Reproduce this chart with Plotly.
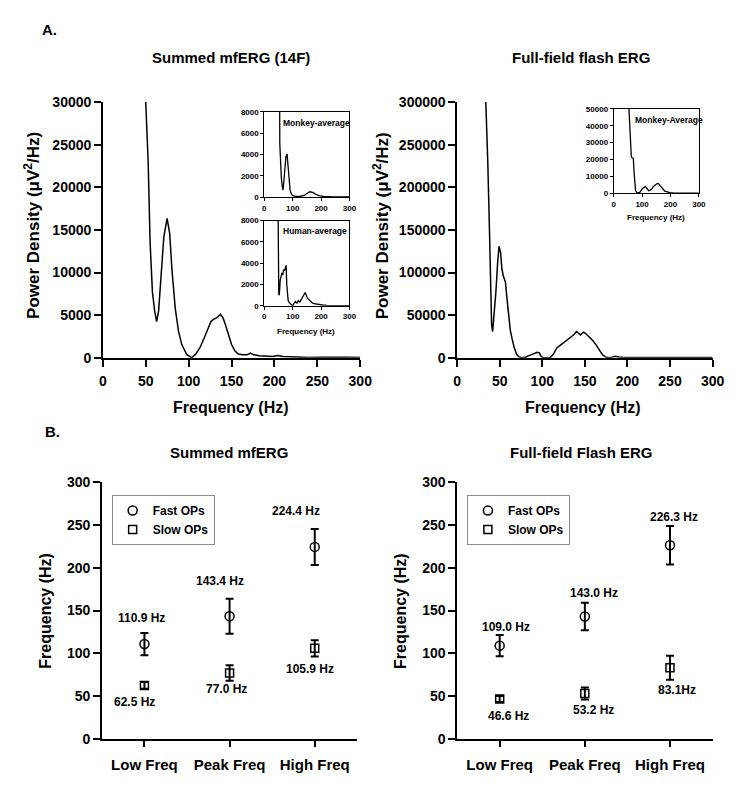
import plotly.graph_objects as go

W, H = 750, 792
FONT = "Liberation Sans, Arial, sans-serif"

# ---------------- data ----------------
# A. Summed mfERG (14F) power spectrum
freq_mf = [46, 50, 52.8, 55.1, 57.8, 60.5, 62.7, 65, 67.3, 71.1, 74.9, 77.9, 80.5, 84.4, 88.2, 92, 97.7,
           103.4, 108, 113, 118, 122, 126, 129.5, 133, 137, 140, 143, 147, 150, 154, 158, 163, 168, 172,
           176, 182, 190, 198, 204, 210, 218, 228, 240, 255, 270, 285, 300]
power_mf = [40000, 30000, 23000, 13500, 7700, 5400, 4230, 5500, 9200, 14200, 16350, 14600, 10400, 5800, 3100,
            1550, 400, 0, 400, 1150, 2300, 3300, 4250, 4550, 4700, 5080, 4700, 3850, 2600, 1550, 800, 450,
            350, 350, 550, 350, 250, 180, 150, 280, 150, 120, 60, 20, 50, 90, 60, 30]

# inset: Monkey-average (mfERG)
freq_mk = [45, 54, 54.5, 57, 60, 63, 65.5, 68, 72, 76, 80, 83, 87, 91, 96, 102, 110, 125, 140, 150, 160,
           170, 180, 195, 210, 240, 270, 300]
power_mk = [20000, 9000, 5000, 3000, 1800, 1000, 650, 1200, 2800, 3800, 4050, 3200, 1600, 600, 250, 120, 80,
            60, 150, 350, 500, 450, 280, 120, 60, 30, 20, 10]

# inset: Human-average (mfERG)
freq_hu = [45, 49, 51, 53, 56, 58, 62, 65, 68, 71, 74, 77, 79, 81, 84, 88, 95, 100, 105, 110, 115, 120, 125,
           130, 135, 140, 144, 148, 152, 157, 162, 168, 175, 185, 195, 205, 220, 240, 270, 300]
power_hu = [20000, 8000, 1000, 1100, 2400, 2600, 3100, 2900, 3400, 3300, 3700, 3800, 2000, 1000, 500, 300,
            100, 0, 250, 400, 250, 500, 350, 600, 800, 1000, 1250, 1000, 700, 600, 450, 300, 200, 150, 100,
            80, 50, 30, 20, 10]

# A. Full-field flash ERG power spectrum
freq_ff = [32, 34, 36, 37.9, 39.5, 40.5, 41.7, 43.5, 45.5, 47.5, 49.2, 51.1, 52.5, 54.2, 56.8, 58.5, 60.6,
           62.5, 64.4, 67, 70, 73, 75.8, 80, 83, 87, 91, 94, 96.5, 98.5, 101, 104, 109, 113, 117, 121, 125,
           130, 134.5, 137.5, 140, 142.5, 144.7, 146.5, 148.5, 151, 155, 159, 163, 167, 170.5, 174, 178, 182,
           186, 190, 195, 205, 220, 240, 260, 280, 300]
power_ff = [350000, 300000, 230000, 153800, 80000, 38500, 30800, 50000, 76900, 110000, 130800, 123000,
            105000, 96150, 88460, 70000, 46150, 32000, 23000, 12000, 3850, 1000, 0, 500, 1900, 3500, 4500,
            6500, 5800, 1900, 0, 0, 0, 4000, 11500, 14500, 17300, 21000, 25000, 27500, 30800, 29000, 26900,
            28500, 30000, 28500, 25000, 20500, 15400, 9000, 3850, 1000, 0, 800, 1900, 1000, 300, 200, 500,
            200, 400, 200, 300]

# inset: Monkey-Average (full-field)
freq_ffm = [45, 54, 56, 58, 60, 62, 65, 69, 72, 77, 83, 92, 100, 106, 111, 117, 123, 128, 134, 140, 146,
            152, 157, 163, 169, 175, 180, 190, 198, 210, 220, 240, 270, 300]
power_ffm = [80000, 50000, 40000, 30000, 24000, 21700, 21000, 20800, 12000, 1500, 0, 500, 2500, 3500, 4000,
             2800, 1500, 1800, 2500, 4000, 5000, 5600, 5800, 4800, 3500, 2200, 1200, 600, 300, 150, 0, 50, 0, 0]

# B. OP frequencies (mean, error)
categories = ["Low Freq", "Peak Freq", "High Freq"]
cat_pos = [1, 3, 5]

fast_mf = [110.9, 143.4, 224.4]
fast_mf_err = [13, 20.5, 21]
slow_mf = [62.5, 77.0, 105.9]
slow_mf_err = [4, 9, 9.5]
fast_mf_text = ["110.9 Hz", "143.4 Hz", "224.4 Hz"]
slow_mf_text = ["62.5 Hz", "77.0 Hz", "105.9 Hz"]

fast_ff = [109.0, 143.0, 226.3]
fast_ff_err = [12.5, 16, 22.5]
slow_ff = [46.6, 53.2, 83.1]
slow_ff_err = [3.5, 7, 14]
fast_ff_text = ["109.0 Hz", "143.0 Hz", "226.3 Hz"]
slow_ff_text = ["46.6 Hz", "53.2 Hz", "83.1Hz"]

# ---------------- helpers ----------------
def px_x(a, b):
    return [a / W, b / W]

def px_y(top, bottom):
    return [1 - bottom / H, 1 - top / H]

def bold(size):
    return dict(family=FONT, size=size, color="black", weight="bold")

def main_axis(**kw):
    d = dict(showline=True, linecolor="black", linewidth=1.5, ticks="outside", ticklen=7,
             tickwidth=1.5, tickcolor="black", showgrid=False, zeroline=False, tickfont=bold(14),
             tickformat="d", fixedrange=True)
    d.update(kw)
    return d

def inset_axis(**kw):
    d = dict(showline=True, linecolor="black", linewidth=1, mirror=True, ticks="outside", ticklen=3,
             tickwidth=1, tickcolor="black", showgrid=False, zeroline=False, tickfont=bold(8),
             tickformat="d", fixedrange=True)
    d.update(kw)
    return d

fig = go.Figure()
line_style = dict(color="black", width=1.5)

fig.add_trace(go.Scatter(x=freq_mf, y=power_mf, mode="lines", line=line_style, xaxis="x", yaxis="y",
                         showlegend=False, hoverinfo="skip"))
fig.add_trace(go.Scatter(x=freq_ff, y=power_ff, mode="lines", line=line_style, xaxis="x2", yaxis="y2",
                         showlegend=False, hoverinfo="skip"))
fig.add_trace(go.Scatter(x=freq_mk, y=power_mk, mode="lines", line=dict(color="black", width=1.3),
                         xaxis="x3", yaxis="y3", showlegend=False, hoverinfo="skip"))
fig.add_trace(go.Scatter(x=freq_hu, y=power_hu, mode="lines", line=dict(color="black", width=1.3),
                         xaxis="x4", yaxis="y4", showlegend=False, hoverinfo="skip"))
fig.add_trace(go.Scatter(x=freq_ffm, y=power_ffm, mode="lines", line=dict(color="black", width=1.3),
                         xaxis="x5", yaxis="y5", showlegend=False, hoverinfo="skip"))

err_style = dict(type="data", thickness=2, width=4, color="black")
for (xa, ya, fv, fe, sv, se, leg) in [("x6", "y6", fast_mf, fast_mf_err, slow_mf, slow_mf_err, "legend"),
                                      ("x7", "y7", fast_ff, fast_ff_err, slow_ff, slow_ff_err, "legend2")]:
    fig.add_trace(go.Scatter(x=cat_pos, y=fv, mode="markers", name="Fast OPs",
                             marker=dict(symbol="circle-open", size=9, color="black", line=dict(width=1.5)),
                             error_y=dict(array=fe, **err_style), xaxis=xa, yaxis=ya, legend=leg))
    fig.add_trace(go.Scatter(x=cat_pos, y=sv, mode="markers", name="Slow OPs",
                             marker=dict(symbol="square-open", size=8, color="black", line=dict(width=1.5)),
                             error_y=dict(array=se, **err_style), xaxis=xa, yaxis=ya, legend=leg))

# domains (pixel based)
TL_X = px_x(101, 364)
TR_X = px_x(463, 724)
TOP_Y = px_y(96, 357)
BL_X = px_x(100, 361)
BR_X = px_x(463, 724)
BOT_Y = px_y(484, 746)

layout = dict(
    width=W, height=H, margin=dict(l=0, r=0, t=0, b=0),
    paper_bgcolor="white", plot_bgcolor="rgba(0,0,0,0)",
    font=dict(family=FONT, color="black"),
)

# main top panels
layout["xaxis"] = main_axis(domain=TL_X, range=[0, 300], tickvals=list(range(0, 301, 50)), anchor="y",
                            ticklabelstandoff=3)
layout["yaxis"] = main_axis(domain=TOP_Y, range=[0, 30000], tickvals=list(range(0, 30001, 5000)), anchor="x")
layout["xaxis2"] = main_axis(domain=TR_X, range=[0, 300], tickvals=list(range(0, 301, 50)), anchor="y2",
                             ticklabelstandoff=3)
layout["yaxis2"] = main_axis(domain=TOP_Y, range=[0, 300000], tickvals=list(range(0, 300001, 50000)),
                             anchor="x2")
# insets
layout["xaxis3"] = inset_axis(domain=px_x(266, 353), range=[0, 300], tickvals=[0, 100, 200, 300], anchor="y3")
layout["yaxis3"] = inset_axis(domain=px_y(106, 193), range=[0, 8000], tickvals=list(range(0, 8001, 2000)),
                              anchor="x3")
layout["xaxis4"] = inset_axis(domain=px_x(266, 353), range=[0, 300], tickvals=[0, 100, 200, 300], anchor="y4")
layout["yaxis4"] = inset_axis(domain=px_y(217, 304), range=[0, 8000], tickvals=list(range(0, 8001, 2000)),
                              anchor="x4")
layout["xaxis5"] = inset_axis(domain=px_x(623, 710), range=[0, 300], tickvals=[0, 100, 200, 300], anchor="y5")
layout["yaxis5"] = inset_axis(domain=px_y(103, 189), range=[0, 50000], tickvals=list(range(0, 50001, 10000)),
                              anchor="x5")
# bottom panels (labels at the category positions, tick marks every unit via overlay axes)
cat_ticks = list(range(0, 7))
layout["xaxis6"] = main_axis(domain=BL_X, range=[0, 6], tickvals=cat_pos, ticktext=categories, anchor="y6",
                             tickfont=bold(15), ticklabelstandoff=5, ticklen=6)
layout["yaxis6"] = main_axis(domain=BOT_Y, range=[0, 300], tickvals=list(range(0, 301, 50)), anchor="x6")
layout["xaxis7"] = main_axis(domain=BR_X, range=[0, 6], tickvals=cat_pos, ticktext=categories, anchor="y7",
                             tickfont=bold(15), ticklabelstandoff=5, ticklen=6)
layout["yaxis7"] = main_axis(domain=BOT_Y, range=[0, 300], tickvals=list(range(0, 301, 50)), anchor="x7")

# mirrored (top / right) axes with inward ticks, and bottom tick-only axes
def top_axis(over, anchor, rng, tv):
    return dict(overlaying=over, anchor=anchor, side="top", range=rng, tickvals=tv, showticklabels=False,
                showline=True, linecolor="black", linewidth=1.5, ticks="inside", ticklen=5, tickwidth=1.2,
                tickcolor="black", showgrid=False, zeroline=False, fixedrange=True)

def right_axis(over, anchor, rng, tv):
    return dict(overlaying=over, anchor=anchor, side="right", range=rng, tickvals=tv, showticklabels=False,
                showline=True, linecolor="#c4c4c4", linewidth=1, ticks="inside", ticklen=4, tickwidth=1.2,
                tickcolor="#555555", showgrid=False, zeroline=False, fixedrange=True)

def bottom_tick_axis(over, anchor, rng, tv):
    return dict(overlaying=over, anchor=anchor, side="bottom", range=rng, tickvals=tv, showticklabels=False,
                showline=False, ticks="outside", ticklen=6, tickwidth=1.5, tickcolor="black",
                showgrid=False, zeroline=False, fixedrange=True)

layout["xaxis8"] = top_axis("x", "y", [0, 300], list(range(0, 301, 50)))
layout["yaxis8"] = right_axis("y", "x", [0, 30000], list(range(0, 30001, 5000)))
layout["xaxis9"] = top_axis("x2", "y2", [0, 300], list(range(0, 301, 50)))
layout["yaxis9"] = right_axis("y2", "x2", [0, 300000], list(range(0, 300001, 50000)))
layout["xaxis10"] = top_axis("x6", "y6", [0, 6], cat_ticks)
layout["yaxis10"] = right_axis("y6", "x6", [0, 300], list(range(0, 301, 50)))
layout["xaxis11"] = top_axis("x7", "y7", [0, 6], cat_ticks)
layout["yaxis11"] = right_axis("y7", "x7", [0, 300], list(range(0, 301, 50)))
layout["xaxis12"] = bottom_tick_axis("x6", "y6", [0, 6], cat_ticks)
layout["xaxis13"] = bottom_tick_axis("x7", "y7", [0, 6], cat_ticks)

# legends
leg_common = dict(bgcolor="white", bordercolor="#8a8a8a", borderwidth=1, font=bold(12),
                  xanchor="left", yanchor="top", tracegroupgap=0, itemwidth=30)
layout["legend"] = dict(x=110 / W, y=1 - 497 / H, **leg_common)
layout["legend2"] = dict(x=473 / W, y=1 - 497 / H, **leg_common)

fig.update_layout(**layout)

# ---------------- text ----------------
def ptxt(x, y, text, size, angle=0, anchor="center", weight="bold"):
    return dict(x=x / W, y=1 - y / H, xref="paper", yref="paper", text=text,
                showarrow=False, font=dict(family=FONT, size=size, color="black", weight=weight),
                xanchor=anchor, yanchor="middle", textangle=angle)

ann = [
    ptxt(37, 22, "A.", 15, anchor="left"),
    ptxt(40, 432, "B.", 15, anchor="left"),
    ptxt(232, 51, "Summed mfERG (14F)", 15),
    ptxt(590, 51, "Full-field flash ERG", 15),
    ptxt(28, 222, "Power Density (μV<sup>2</sup>/Hz)", 17, angle=-90),
    ptxt(385, 222, "Power Density (μV<sup>2</sup>/Hz)", 17, angle=-90),
    ptxt(232, 408, "Frequency (Hz)", 16),
    ptxt(592, 408, "Frequency (Hz)", 16),
    ptxt(230, 454, "Summed mfERG", 15),
    ptxt(590, 454, "Full-field Flash ERG", 15),
    ptxt(42, 615, "Frequency (Hz)", 16, angle=-90),
    ptxt(405, 615, "Frequency (Hz)", 16, angle=-90),
    # inset texts
    ptxt(283, 117, "Monkey-average", 8.5, anchor="left"),
    ptxt(283, 228, "Human-average", 8.5, anchor="left"),
    ptxt(643, 114, "Monkey-Average", 8.5, anchor="left"),
    ptxt(309, 330, "Frequency (Hz)", 8),
    ptxt(666, 214, "Frequency (Hz)", 8),
]

# data labels (pixel offsets from the point)
fast_mf_shift = [(-3, 26), (-10, 35), (-19, 36)]
slow_mf_shift = [(-10, -17), (-3, -16), (-5, -21)]
fast_ff_shift = [(6, 19), (9, 24), (4, 28)]
slow_ff_shift = [(9, -17), (9, -17), (7, -22)]

def data_labels(xa, ya, vals, texts, shifts):
    out = []
    for xp, v, t, (dx, dy) in zip(cat_pos, vals, texts, shifts):
        out.append(dict(x=xp, y=v, xref=xa, yref=ya, text=t, showarrow=False, font=bold(12),
                        xshift=dx, yshift=dy, xanchor="center", yanchor="middle"))
    return out

ann += data_labels("x6", "y6", fast_mf, fast_mf_text, fast_mf_shift)
ann += data_labels("x6", "y6", slow_mf, slow_mf_text, slow_mf_shift)
ann += data_labels("x7", "y7", fast_ff, fast_ff_text, fast_ff_shift)
ann += data_labels("x7", "y7", slow_ff, slow_ff_text, slow_ff_shift)

fig.update_layout(annotations=ann)
# remove the page's default body margin so the figure sits at the window origin
fig.write_html("out.html", config={"displayModeBar": False},
               post_script="document.body.style.margin='0px';")
